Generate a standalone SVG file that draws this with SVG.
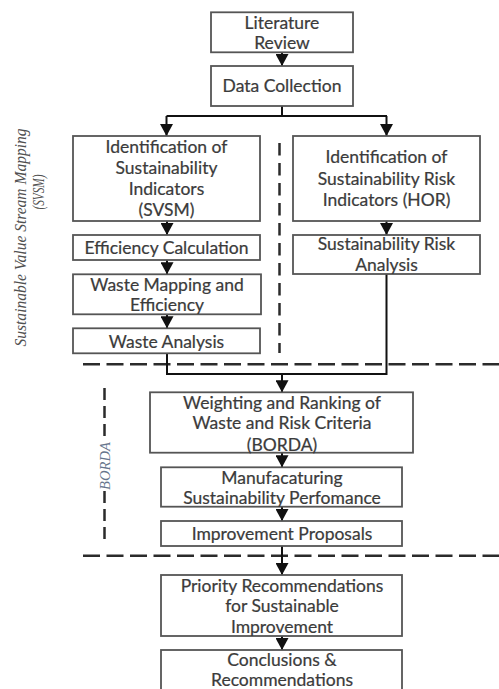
<svg xmlns="http://www.w3.org/2000/svg" width="499" height="689" viewBox="0 0 499 689">
  <style>
    .box { fill: #ffffff; stroke: #555555; stroke-width: 1.8; }
    .lbl { font-family: Lato, "Open Sans", "Liberation Sans", sans-serif; font-size: 17.5px; fill: #3b3b3b; stroke: #3b3b3b; stroke-width: 0.22; text-anchor: middle; }
    .conn { fill: none; stroke: #111111; stroke-width: 2; }
    .dash { fill: none; stroke: #2b2b2b; stroke-width: 2.5; }
    .side { font-family: "Liberation Serif", "Times New Roman", serif; font-style: italic; font-size: 17px; fill: #505050; text-anchor: middle; }
    .borda { font-family: "Liberation Serif", "Times New Roman", serif; font-style: italic; font-size: 15px; fill: #66758c; text-anchor: middle; }
  </style>
  <defs>
    <marker id="arrow" viewBox="0 0 12 13" refX="12" refY="6.5" markerWidth="12" markerHeight="13" markerUnits="userSpaceOnUse" orient="auto">
      <path d="M0,0 L12,6.5 L0,13 Z" fill="#111111"/>
    </marker>
  </defs>
  <rect width="499" height="689" fill="#ffffff"/>

  <!-- section dividers and side labels -->
  <g id="sections">
    <line class="dash" x1="279.5" y1="143" x2="279.5" y2="353" stroke-dasharray="12.5 7.5"/>
    <line class="dash" x1="83" y1="364.3" x2="499" y2="364.3" stroke-dasharray="17 6.5"/>
    <line class="dash" x1="83" y1="555.7" x2="499" y2="555.7" stroke-dasharray="17 6.5"/>
    <line class="dash" x1="104.5" y1="388" x2="104.5" y2="441" stroke-dasharray="12 6"/>
    <line class="dash" x1="104.5" y1="491" x2="104.5" y2="540" stroke-dasharray="12 6"/>
    <text class="side" transform="translate(25.5,237.5) rotate(-90)" textLength="218" lengthAdjust="spacingAndGlyphs">Sustainable Value Stream Mapping</text>
    <text class="side" transform="translate(44,192) rotate(-90)" textLength="35" lengthAdjust="spacingAndGlyphs">(SVSM)</text>
    <text class="borda" transform="translate(109.5,466) rotate(-90)" textLength="48" lengthAdjust="spacingAndGlyphs">BORDA</text>
  </g>

  <!-- connectors -->
  <g id="connectors">
    <path class="conn" d="M282,52 V66" marker-end="url(#arrow)"/>
    <path class="conn" d="M282,106 V116 M166.5,116 H387"/>
    <path class="conn" d="M166.5,116 V136" marker-end="url(#arrow)"/>
    <path class="conn" d="M386.5,116 V136" marker-end="url(#arrow)"/>
    <path class="conn" d="M167,221 V235" marker-end="url(#arrow)"/>
    <path class="conn" d="M167,260 V274.3" marker-end="url(#arrow)"/>
    <path class="conn" d="M167,314.3 V328.3" marker-end="url(#arrow)"/>
    <path class="conn" d="M386.5,221 V235" marker-end="url(#arrow)"/>
    <path class="conn" d="M167,353.3 V374 H386.5 V274"/>
    <path class="conn" d="M282,374 V392.3" marker-end="url(#arrow)"/>
    <path class="conn" d="M282,452.7 V467.3" marker-end="url(#arrow)"/>
    <path class="conn" d="M282,506.7 V521" marker-end="url(#arrow)"/>
    <path class="conn" d="M282,546 V575" marker-end="url(#arrow)"/>
    <path class="conn" d="M282,636 V650" marker-end="url(#arrow)"/>
  </g>

  <g id="literature-review">
    <rect class="box" x="211" y="12.3" width="142" height="40"/>
    <text class="lbl" x="282" y="28.8">Literature</text>
    <text class="lbl" x="282" y="49.2">Review</text>
  </g>
  <g id="data-collection">
    <rect class="box" x="211" y="66" width="142" height="40"/>
    <text class="lbl" x="282" y="92.2">Data Collection</text>
  </g>
  <g id="sustainability-indicators">
    <rect class="box" x="73" y="136" width="187" height="85"/>
    <text class="lbl" x="166.5" y="152.8">Identification of</text>
    <text class="lbl" x="166.5" y="173.8">Sustainability</text>
    <text class="lbl" x="166.5" y="194.6">Indicators</text>
    <text class="lbl" x="166.5" y="216.2">(SVSM)</text>
  </g>
  <g id="risk-indicators">
    <rect class="box" x="293" y="136" width="187" height="85"/>
    <text class="lbl" x="386.5" y="162.8">Identification of</text>
    <text class="lbl" x="386.5" y="185.4">Sustainability Risk</text>
    <text class="lbl" x="386.5" y="206.2">Indicators (HOR)</text>
  </g>
  <g id="efficiency-calculation">
    <rect class="box" x="73" y="235" width="187" height="25"/>
    <text class="lbl" x="166.5" y="253.5">Efficiency Calculation</text>
  </g>
  <g id="waste-mapping">
    <rect class="box" x="73" y="274.3" width="188" height="40"/>
    <text class="lbl" x="167" y="290.5">Waste Mapping and</text>
    <text class="lbl" x="167" y="310.5">Efficiency</text>
  </g>
  <g id="waste-analysis">
    <rect class="box" x="73" y="328.3" width="187" height="25"/>
    <text class="lbl" x="166.5" y="347.8">Waste Analysis</text>
  </g>
  <g id="risk-analysis">
    <rect class="box" x="293" y="235" width="187" height="39"/>
    <text class="lbl" x="386.5" y="250.2">Sustainability Risk</text>
    <text class="lbl" x="386.5" y="271.2">Analysis</text>
  </g>
  <g id="borda-weighting">
    <rect class="box" x="150" y="392.3" width="263" height="60.4"/>
    <text class="lbl" x="282" y="408.5">Weighting and Ranking of</text>
    <text class="lbl" x="282" y="428.9">Waste and Risk Criteria</text>
    <text class="lbl" x="282" y="450.5">(BORDA)</text>
  </g>
  <g id="sustainability-performance">
    <rect class="box" x="161" y="467.3" width="241" height="39.4"/>
    <text class="lbl" x="282" y="483.9">Manufacaturing</text>
    <text class="lbl" x="282" y="503.5">Sustainability Perfomance</text>
  </g>
  <g id="improvement-proposals">
    <rect class="box" x="161" y="521" width="241" height="25"/>
    <text class="lbl" x="282" y="540.2">Improvement Proposals</text>
  </g>
  <g id="priority-recommendations">
    <rect class="box" x="161" y="575" width="241" height="61"/>
    <text class="lbl" x="282" y="591.9">Priority Recommendations</text>
    <text class="lbl" x="282" y="612.2">for Sustainable</text>
    <text class="lbl" x="282" y="632.9">Improvement</text>
  </g>
  <g id="conclusions">
    <rect class="box" x="161" y="650" width="241" height="44"/>
    <text class="lbl" x="282" y="666">Conclusions &amp;</text>
    <text class="lbl" x="282" y="686">Recommendations</text>
  </g>
</svg>
